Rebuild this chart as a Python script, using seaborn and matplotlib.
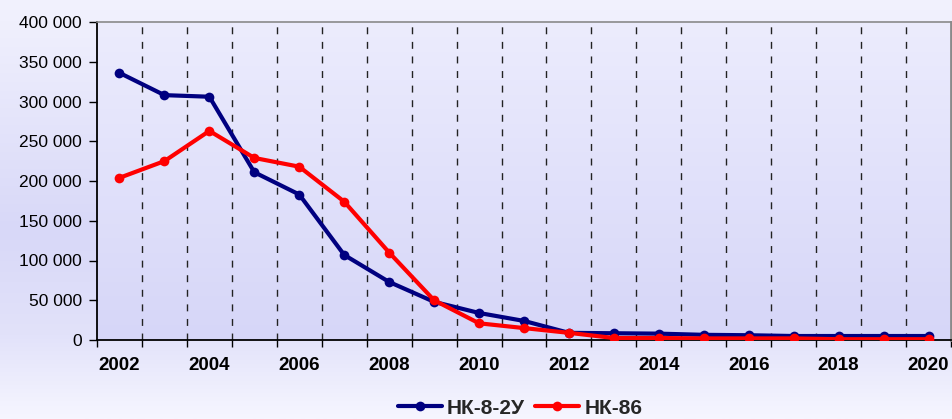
import numpy as np
import pandas as pd
import matplotlib
matplotlib.use("Agg")
import matplotlib.pyplot as plt
from matplotlib.colors import LinearSegmentedColormap
from matplotlib.lines import Line2D
import seaborn as sns

years = list(range(2002, 2021))
series_names = ["НК-8-2У", "НК-86"]
nk8_2u = [336000, 308000, 306000, 211000, 183000, 107000, 73000, 48000, 34000, 24000,
          9000, 8500, 8000, 6500, 6000, 5000, 5000, 5000, 5000]
nk86 = [204000, 225000, 263000, 229000, 218000, 174000, 110000, 50000, 21000, 15000,
        9000, 2500, 2500, 2000, 2000, 2000, 1000, 1000, 1000]
y_ticks = [0, 50000, 100000, 150000, 200000, 250000, 300000, 350000, 400000]
x_label_years = [y for y in years if y % 2 == 0]

sns.set_theme(style="white")
plt.rcParams["font.family"] = ["Liberation Sans", "DejaVu Sans"]

df = pd.DataFrame({
    "idx": list(range(len(years))) * 2,
    "value": nk8_2u + nk86,
    "series": [series_names[0]] * len(years) + [series_names[1]] * len(years),
})

W, H, DPI = 953, 419, 100
fig = plt.figure(figsize=(W / DPI, H / DPI), dpi=DPI)

# figure background gradient
bg = fig.add_axes([0, 0, 1, 1], zorder=-10)
cmap_bg = LinearSegmentedColormap.from_list(
    "bg", [(0.0, "#f6f6ff"), (0.2, "#e2e2fa"), (0.45, "#d8d8f8"), (0.95, "#f0f0fd"), (1.0, "#f2f2fe")])
grad = np.linspace(0, 1, 256).reshape(-1, 1)
bg.imshow(grad, aspect="auto", cmap=cmap_bg, extent=[0, 1, 0, 1], origin="lower")
bg.set_axis_off()

ax = fig.add_axes([97 / W, 1 - 340 / H, (951 - 97) / W, (340 - 22) / H])
# plot area gradient
cmap_pa = LinearSegmentedColormap.from_list("pa", [(0.0, "#d6d6f8"), (1.0, "#ececfd")])
ax.imshow(grad, aspect="auto", cmap=cmap_pa, extent=[-0.5, len(years) - 0.5, 0, 400000],
          origin="lower", zorder=0)

palette = {series_names[0]: "#000080", series_names[1]: "#ff0000"}
sns.lineplot(data=df, x="idx", y="value", hue="series", palette=palette, ax=ax,
             marker="o", markersize=7, markeredgewidth=0, linewidth=3, legend=False, zorder=3)

ax.set_xlim(-0.5, len(years) - 0.5)
ax.set_ylim(0, 400000)

# gridlines at category boundaries
bounds = np.arange(-0.5, len(years) - 0.5 + 0.01, 1.0)
for b in bounds[1:-1]:
    ax.axvline(b, color="#222222", linestyle=(0, (5, 5.5)), linewidth=1.0, zorder=1)

ax.set_xticks([years.index(y) for y in x_label_years])
ax.set_xticklabels([str(y) for y in x_label_years], fontsize=13.5, fontweight="bold", color="black")
ax.set_xticks(bounds, minor=True)
ax.tick_params(axis="x", which="major", length=0, pad=12)
ax.tick_params(axis="x", which="minor", length=5, width=1, color="black", direction="out", bottom=True)

ax.set_yticks(y_ticks)
ax.set_yticklabels([f"{v:,}".replace(",", " ") for v in y_ticks], fontsize=12.5, color="black")
ax.tick_params(axis="y", length=6, width=1, color="black", direction="out", left=True, pad=5)

ax.set_xlabel("")
ax.set_ylabel("")
ax.grid(False)
for s in ["left", "bottom"]:
    ax.spines[s].set_color("black")
    ax.spines[s].set_linewidth(1.3)
ax.spines["top"].set_color("#8a8a8a")
ax.spines["top"].set_linewidth(1.2)
ax.spines["right"].set_color("#8a8a8a")
ax.spines["right"].set_linewidth(2)

handles = [Line2D([0], [0], color=palette[n], linewidth=3, marker="o", markersize=7,
                  markeredgewidth=0) for n in series_names]
fig.legend(handles, series_names, loc="center", bbox_to_anchor=(520 / W, 1 - 408 / H), ncol=2,
           frameon=False, prop={"weight": "bold", "size": 15}, handlelength=2.1,
           columnspacing=0.5, handletextpad=0.25)

fig.savefig("out.png", dpi=DPI)
